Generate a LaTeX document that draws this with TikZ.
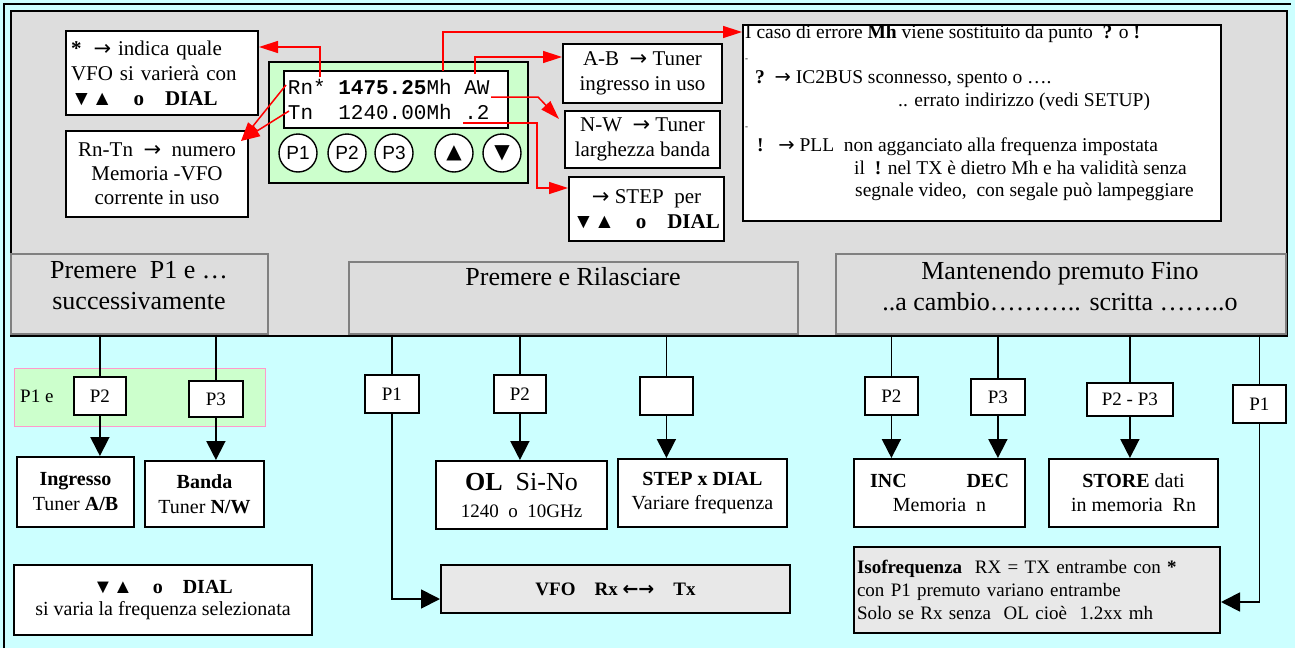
\documentclass[tikz,border=0pt]{standalone}
\usepackage{fontspec}
\setmainfont{Liberation Serif}
\newfontfamily\lcdfont{Liberation Mono}
\newfontfamily\btnfont{Liberation Sans}
\newfontfamily\symfont{DejaVu Sans}
\usetikzlibrary{arrows.meta}

\definecolor{skycyan}{HTML}{CCFFFF}
\definecolor{panelgray}{HTML}{DDDDDD}
\definecolor{softgray}{HTML}{E8E8E8}
\definecolor{mint}{HTML}{CCFFCC}
\definecolor{rosepink}{HTML}{FF99CC}
\definecolor{hdrgray}{HTML}{808080}

\newcommand{\setfs}[2]{\fontsize{#1}{#2}\selectfont}
% arrow glyphs and a fixed-pitch blank for the display
\newcommand{\rarr}{{\symfont →}}
\newcommand{\lrarr}{{\symfont\bfseries ←→}}
\newcommand{\lcdsp}{\hphantom{0}}

\begin{document}
\begin{tikzpicture}[
  x=1pt, y=-1pt,
  box/.style={draw=black, line width=2pt, fill=white, inner sep=0pt, align=center, anchor=north west},
  tagbox/.style={box, line width=1.8pt, font=\setfs{19}{22}},
  hdr/.style={draw=hdrgray, line width=1.6pt, fill=panelgray, anchor=north west, inner sep=0pt},
  pbtn/.style={circle, draw=black, line width=1.4pt, fill=white, minimum size=38pt, inner sep=0pt, font=\btnfont\setfs{19}{20}},
  link/.style={draw=black, line width=1.8pt},
  flow/.style={link, -{Triangle[length=19pt,width=19pt]}},
  callout/.style={draw=red, line width=1.5pt, -{Triangle[length=19pt,width=12pt]}},
]
\useasboundingbox (0,0) rectangle (1295,648);
\fill[skycyan] (0,0) rectangle (1295,648);
\draw[line width=1.8pt] (4,648) -- (4,4) -- (1291,4);

% upper panel with the front view of the controller
\node[draw=black, line width=1.8pt, fill=panelgray, anchor=north west, minimum width=1276pt, minimum height=325pt, inner sep=0pt] (frame) at (10,10) {};

\node[box, text width=182pt, minimum width=192pt, minimum height=84pt, align=left, font=\setfs{21}{25}] (star) at (65,30)
  {\textbf{*}\hspace{12pt}\rarr\ indica quale\\VFO si varierà con\\\textbf{▼▲\quad o\quad DIAL}};
\node[box, minimum width=182pt, minimum height=86pt, font=\setfs{21}{24}] (rntn) at (65,130)
  {Rn-Tn\ \ \rarr\ \ numero\\Memoria -VFO\\corrente in uso};

\node[draw=black, line width=1.8pt, fill=mint, anchor=north west, minimum width=259pt, minimum height=121pt, inner sep=0pt] (panel) at (268,61) {};
\node[box, line width=1.8pt, minimum width=224pt, minimum height=57pt, text width=216pt, align=left, font=\lcdfont\setfs{21}{25}] (lcd) at (283,70)
  {Rn*\lcdsp\textbf{1475.25}Mh\lcdsp AW\\Tn\lcdsp\lcdsp 1240.00Mh\lcdsp.2};

\node[pbtn] (kP1) at (298,153) {P1};
\node[pbtn] (kP2) at (347,153) {P2};
\node[pbtn] (kP3) at (394,153) {P3};
\node[pbtn, font=\symfont\setfs{20}{20}] (kUp) at (454,153) {▲};
\node[pbtn, font=\symfont\setfs{20}{20}] (kDn) at (502,153) {▼};

\node[box, minimum width=159pt, minimum height=59pt, font=\setfs{21}{25}] (ab) at (562,43) {A-B\ \ \rarr\ Tuner\\ingresso in uso};
\node[box, minimum width=155pt, minimum height=57pt, font=\setfs{21}{25}] (nw) at (564,110) {N-W\ \ \rarr\ Tuner\\larghezza banda};
\node[box, minimum width=155pt, minimum height=64pt, font=\setfs{21}{25}] (stp) at (568,176) {\rarr\ STEP\ \ per\\\textbf{▼▲\quad o\quad DIAL}};

\node[box, minimum width=478pt, minimum height=196pt] (err) at (742,24) {};
\node[anchor=north west, inner sep=0pt, align=left, font=\setfs{19.5}{22.6}] (errtxt) at (745,25)
  {I caso di errore \textbf{Mh} viene sostituito da punto\ \ \textbf{?} o \textbf{!}\\
   {\setfs{9}{22.6}-}\\
   \hspace*{10pt}\textbf{?}\ \ \rarr\ IC2BUS sconnesso, spento o ….\\
   \hspace*{153pt}.. errato indirizzo (vedi SETUP)\\
   {\setfs{9}{22.6}-}\\
   \hspace*{12pt}\textbf{!}\ \ \ \rarr\ PLL\ \ non agganciato alla frequenza impostata\\
   \hspace*{109pt}il\ \ \textbf{!} nel TX è dietro Mh e ha validità senza\\
   \hspace*{110pt}segnale video,\ \ con segale può lampeggiare};

% callouts from the display
\coordinate (pStar) at (320,77);
\coordinate (pRn) at (286,85);
\coordinate (pTn) at (289,111);
\coordinate (pRnTip) at (241,141);
\coordinate (pMh) at (443,71);
\coordinate (pAW) at (475,74);
\coordinate (pAWr) at (491,97);
\coordinate (pAWbend) at (538,97);
\coordinate (pNW) at (559,119);
\coordinate (pDot) at (463,123);
\coordinate (pDotbend) at (537,123);

\draw[callout] (pStar) |- (star.east |- 0,47);
\draw[callout] (pRn) -- (pRnTip);
\draw[callout] (pTn) -- (pRnTip);
\draw[callout] (pMh) |- (err.west |- 0,32);
\draw[callout] (pAW) |- (ab.west |- 0,57);
\draw[callout] (pAWr) -- (pAWbend) -- (pNW);
\draw[callout] (pDot) -- (pDotbend) |- (stp.west |- 0,188);

% mode headers
\node[hdr, minimum width=257pt, minimum height=80pt] (h1) at (10,253) {};
\node[anchor=north, inner sep=0pt, align=center, font=\setfs{26}{31}] (h1t) at (139,261) {Premere\ \ P1 e …\\successivamente};
\node[hdr, minimum width=449pt, minimum height=72pt] (h2) at (348,261) {};
\node[anchor=base, inner sep=0pt, font=\setfs{26}{31}] (h2t) at (573,285) {Premere e Rilasciare};
\node[hdr, minimum width=450pt, minimum height=80pt] (h3) at (835,253) {};
\node[anchor=north, inner sep=0pt, align=center, font=\setfs{26}{31}] (h3t) at (1060,261) {Mantenendo premuto Fino\\..a cambio……….. scritta ……..o};

% first group: P1 held, then P2 or P3
\node[draw=rosepink, line width=1.4pt, fill=mint, anchor=north west, minimum width=251pt, minimum height=58pt, inner sep=0pt] (combo) at (14,368) {};
\node[anchor=west, inner sep=0pt, font=\setfs{19}{22}] (combot) at (20,396) {P1 e};
\node[tagbox, minimum width=52pt, minimum height=38pt] (a2) at (73,376) {P2};
\node[tagbox, minimum width=54pt, minimum height=36pt] (a3) at (188,380) {P3};
\node[box, minimum width=117pt, minimum height=70pt, font=\setfs{20}{25}] (ing) at (16,456) {\textbf{Ingresso}\\Tuner \textbf{A/B}};
\node[box, minimum width=119pt, minimum height=66pt, font=\setfs{20}{25}] (band) at (144,460) {\textbf{Banda}\\Tuner \textbf{N/W}};
\node[box, minimum width=298pt, minimum height=70pt, font=\setfs{20}{22}] (dial) at (13,564) {\textbf{▼▲\quad o\quad DIAL}\\si varia la frequenza selezionata};

% second group: press and release
\node[tagbox, minimum width=54pt, minimum height=38pt] (b1k) at (364,374) {P1};
\node[tagbox, minimum width=52pt, minimum height=38pt] (b2k) at (493,374) {P2};
\node[tagbox, minimum width=53pt, minimum height=38pt] (b3k) at (639,376) {};
\node[box, minimum width=171pt, minimum height=68pt, font=\setfs{19}{27}] (ol) at (435,460) {{\setfs{26}{27}\textbf{OL}\ \ Si-No}\\1240\ \ o\ \ 10GHz};
\node[box, minimum width=169pt, minimum height=68pt, font=\setfs{20}{24}] (stepdial) at (617,458) {\textbf{STEP x DIAL}\\Variare frequenza};
\node[box, fill=softgray, minimum width=349pt, minimum height=48pt, font=\setfs{19}{22}] (vfo) at (440,564) {\textbf{VFO\quad Rx \lrarr\quad Tx}};

% third group: keep pressed
\node[tagbox, minimum width=53pt, minimum height=38pt] (c2k) at (864,376) {P2};
\node[tagbox, minimum width=54pt, minimum height=36pt] (c3k) at (970,378) {P3};
\node[tagbox, minimum width=86pt, minimum height=33pt] (c23k) at (1086,382) {P2 - P3};
\node[tagbox, minimum width=53pt, minimum height=38pt] (c1k) at (1232,384) {P1};
\node[box, minimum width=171pt, minimum height=68pt, font=\setfs{20}{24}] (incdec) at (853,458) {\textbf{INC}\hspace{60pt}\textbf{DEC}\\Memoria\ \ n};
\node[box, minimum width=169pt, minimum height=68pt, font=\setfs{20}{24}] (store) at (1048,458) {\textbf{STORE} dati\\in memoria\ \ Rn};
\node[box, fill=softgray, minimum width=366pt, minimum height=86pt, text width=360pt, align=left, font=\setfs{19}{23}] (iso) at (853,546)
  {\textbf{Isofrequenza}\ \ RX = TX entrambe con \textbf{*}\\con P1 premuto variano entrambe\\Solo se Rx senza\ \ OL cioè\ \ 1.2xx mh};

% connectors
\draw[link] (a2.north |- h1.south) -- (a2.north);
\draw[flow] (a2.south) -- (a2.south |- ing.north);
\draw[link] (a3.north |- h1.south) -- (a3.north);
\draw[flow] (a3.south) -- (a3.south |- band.north);
\draw[link] (b1k.north |- h2.south) -- (b1k.north);
\draw[flow] (b1k.south) |- (vfo.west |- 0,599);
\draw[link] (b2k.north |- h2.south) -- (b2k.north);
\draw[flow] (b2k.south) -- (b2k.south |- ol.north);
\draw[link] (b3k.north |- h2.south) -- (b3k.north);
\draw[flow] (b3k.south) -- (b3k.south |- stepdial.north);
\draw[link] (c2k.north |- h3.south) -- (c2k.north);
\draw[flow] (c2k.south) -- (c2k.south |- incdec.north);
\draw[link] (c3k.north |- h3.south) -- (c3k.north);
\draw[flow] (c3k.south) -- (c3k.south |- incdec.north);
\draw[link] (c23k.north |- h3.south) -- (c23k.north);
\draw[flow] (c23k.south) -- (c23k.south |- store.north);
\draw[link] (c1k.north |- h3.south) -- (c1k.north);
\draw[flow] (c1k.south) |- (iso.east |- 0,602);
\end{tikzpicture}
\end{document}
